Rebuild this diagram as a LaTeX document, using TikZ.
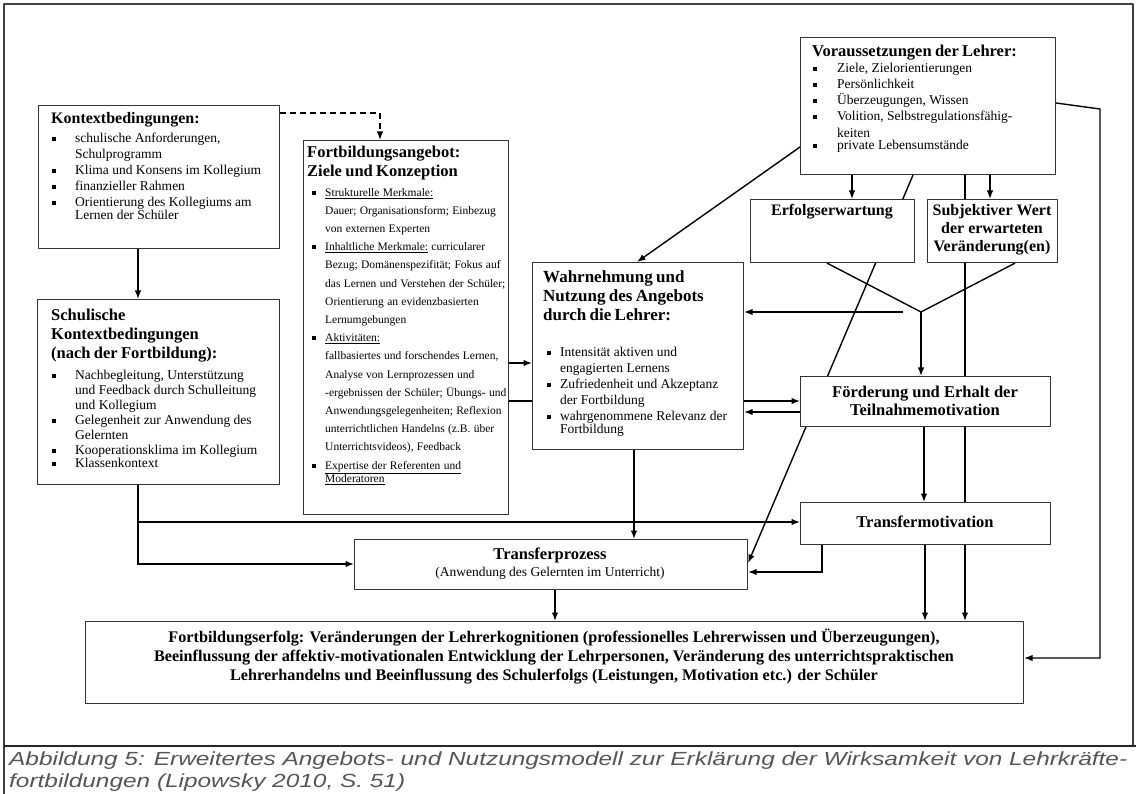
\documentclass[tikz,border=0pt]{standalone}
\usepackage{graphicx}
\usepackage{fontspec}
\setmainfont{Liberation Serif}
\newfontfamily\capfont{Liberation Sans}
\usetikzlibrary{arrows.meta,calc}
\pgfdeclarelayer{bg}
\pgfsetlayers{bg,main}
\definecolor{capgray}{RGB}{85,85,85}
\newcommand\fs[2]{\fontsize{#1}{#2}\selectfont}
\newcommand\bul{\raisebox{1.6pt}{\rule{4pt}{4pt}}}
\newcommand\itm[3]{\par\noindent\makebox[#2][l]{\hspace*{#1}\bul}#3}
\newcommand\cnt[2]{\par\noindent\hspace*{#1}#2}
\newcommand\st{\rule{0pt}{14pt}}
\begin{document}
\begin{tikzpicture}[x=1pt,y=-1pt,line join=round,
  box/.style={draw=black!80, line width=1.1pt, fill=white, inner sep=0pt, anchor=north west},
  arr/.style={line width=1.4pt, -{Latex[length=8.5pt,width=6.5pt]}},
  ln/.style={line width=1.4pt},
  lt/.style={inner sep=0pt, anchor=north west, align=left},
  ct/.style={inner sep=0pt, anchor=north, align=center}]
\useasboundingbox (0,0) rectangle (1136,794);
% frame
\draw[line width=1.2pt, black!75] (4,794) -- (4,4) -- (1133,4) -- (1133,746);
\draw[line width=2.2pt, black!85] (4,746) -- (1136,746);

% boxes
\node[box, minimum width=241pt, minimum height=143pt] (K) at (38,105) {};
\node[box, minimum width=242pt, minimum height=185pt] (S) at (37,299) {};
\node[box, minimum width=205pt, minimum height=374pt] (F) at (303,140) {};
\node[box, minimum width=255pt, minimum height=137pt] (V) at (800,37) {};
\node[box, minimum width=164pt, minimum height=63pt] (E) at (750,199) {};
\node[box, minimum width=130pt, minimum height=63pt] (SW) at (927,199) {};
\node[box, minimum width=211pt, minimum height=187pt] (WN) at (532,262) {};
\node[box, minimum width=250pt, minimum height=50pt] (FM) at (800,376) {};
\node[box, minimum width=250pt, minimum height=42pt] (TM) at (800,502) {};
\node[box, minimum width=393pt, minimum height=50pt] (T) at (354,539) {};
\node[box, minimum width=938pt, minimum height=82pt] (B) at (85,621) {};
\coordinate (J) at (921,312);
\coordinate (rb) at (1100,109);

% connectors (behind boxes)
\begin{pgfonlayer}{bg}
\draw[arr] (K.south -| 138,0) -- (S.north -| 138,0);
\draw[arr, dash pattern=on 6pt off 4pt] ($(K.north east)+(0,8)$) -| (F.north -| 380,0);
\draw[arr] (V.west |- 0,147) -- (WN.north -| 637,0);
\draw[arr] (V.south -| 852,0) -- (E.north -| 852,0);
\draw[arr] (V.south -| 990,0) -- (SW.north -| 990,0);
\draw[arr] (V.south -| 965,0) -- (B.north -| 965,0);
\draw[arr] (V.east |- 0,103) -- (rb) |- (B.east |- 0,658);
\draw[arr] (V.south -| 913,0) -- (T.east |- 0,563);
\draw[ln] (E.south -| 827,0) -- (J);
\draw[ln] (SW.south -| 1015,0) -- (J);
\draw[arr] ($(J)+(-18,0)$) -- (WN.east |- J);
\draw[arr] (J) -- (FM.north -| J);
\draw[arr] (F.east |- 0,401) -- (FM.west |- 0,401);
\draw[arr] (FM.west |- 0,412) -- (WN.east |- 0,412);
\draw[arr] (F.east |- 0,363) -- (WN.west |- 0,363);
\draw[arr] (WN.south -| 634,0) -- (T.north -| 634,0);
\draw[arr] (FM.south -| 924,0) -- (TM.north -| 924,0);
\draw[arr] (S.south -| 138,0) |- (T.west |- 0,564);
\draw[arr] (S.south -| 138,0) |- (TM.west |- 0,522);
\draw[arr] (TM.south -| 822,0) |- (T.east |- 0,572);
\draw[arr] (T.south -| 555,0) -- (B.north -| 555,0);
\draw[arr] (TM.south -| 925,0) -- (B.north -| 925,0);
\end{pgfonlayer}

% texts
\node[lt, text width=225pt] (Kt) at (51,109) {\noindent\fs{16}{19}\bfseries\st Kontextbedingungen:\par
\vspace{3pt}\fs{13.5}{16}\mdseries
\itm{1pt}{24pt}{schulische Anforderungen,}\cnt{24pt}{Schulprogramm}
\itm{1pt}{24pt}{Klima und Konsens im Kollegium}
\itm{1pt}{24pt}{finanzieller Rahmen}
\itm{1pt}{24pt}{Orientierung des Kollegiums am}\cnt{24pt}{Lernen der Schüler}};

\node[lt, text width=228pt] (St) at (51,306) {\noindent\fs{16.5}{19}\bfseries\st Schulische\par\noindent Kontextbedingungen\par\noindent (nach der Fortbildung):\par
\vspace{6pt}\fs{13.5}{15}\mdseries
\itm{1pt}{24pt}{Nachbegleitung, Unterstützung}\cnt{24pt}{und Feedback durch Schulleitung}\cnt{24pt}{und Kollegium}
\itm{1pt}{24pt}{Gelegenheit zur Anwendung des}\cnt{24pt}{Gelernten}
\itm{1pt}{24pt}{Kooperationsklima im Kollegium}
\itm{1pt}{24pt}{Klassenkontext}};

\node[lt, text width=230pt] (Ft) at (307,143) {\noindent\fs{16.5}{19}\bfseries\st Fortbildungsangebot:\par\noindent Ziele und Konzeption\par
\vspace{1.8pt}\fs{11.5}{18.2}\mdseries
\itm{5pt}{18pt}{\underline{Strukturelle Merkmale:}}
\cnt{18pt}{Dauer; Organisationsform; Einbezug}
\cnt{18pt}{von externen Experten}
\itm{5pt}{18pt}{\underline{Inhaltliche Merkmale:} curricularer}
\cnt{18pt}{Bezug; Domänenspezifität; Fokus auf}
\cnt{18pt}{das Lernen und Verstehen der Schüler;}
\cnt{18pt}{Orientierung an evidenzbasierten}
\cnt{18pt}{Lernumgebungen}
\itm{5pt}{18pt}{\underline{Aktivitäten:}}
\cnt{18pt}{fallbasiertes und forschendes Lernen,}
\cnt{18pt}{Analyse von Lernprozessen und}
\cnt{18pt}{-ergebnissen der Schüler; Übungs- und}
\cnt{18pt}{Anwendungsgelegenheiten; Reflexion}
\cnt{18pt}{unterrichtlichen Handelns (z.B. über}
\cnt{18pt}{Unterrichtsvideos), Feedback}
\itm{5pt}{18pt}{\underline{Expertise der Referenten und}}
\cnt{18pt}{\underline{Moderatoren}}};

\node[lt, text width=240pt] (Vt) at (812,42) {\noindent\fs{16.5}{19}\bfseries\st Voraussetzungen der Lehrer:\par
\fs{13.5}{16.2}\mdseries
\itm{1pt}{25pt}{Ziele, Zielorientierungen}
\itm{1pt}{25pt}{Persönlichkeit}
\itm{1pt}{25pt}{Überzeugungen, Wissen}
\itm{1pt}{25pt}{Volition, Selbstregulationsfähig-}\cnt{25pt}{keiten}
\itm{1pt}{25pt}{private Lebensumstände}};

\node[lt, text width=200pt] (WNt) at (543,268) {\noindent\fs{17}{19}\bfseries\st Wahrnehmung und\par\noindent Nutzung des Angebots\par\noindent durch die Lehrer:\par
\vspace{20pt}\fs{13.5}{16}\mdseries
\itm{4pt}{17pt}{Intensität aktiven und}\cnt{17pt}{engagierten Lernens}
\itm{4pt}{17pt}{Zufriedenheit und Akzeptanz}\cnt{17pt}{der Fortbildung}
\itm{4pt}{17pt}{wahrgenommene Relevanz der}\cnt{17pt}{Fortbildung}};

\node[ct, font=\fs{16}{18}\bfseries] (Et) at (832,201) {\st Erfolgserwartung};
\node[ct, font=\fs{16}{18}\bfseries] (SWt) at (992,201) {\st Subjektiver Wert\\der erwarteten\\Veränderung(en)};
\node[ct, font=\fs{16.5}{18}\bfseries] (FMt) at (925,383) {\st Förderung und Erhalt der\\Teilnahmemotivation};
\node[ct, font=\fs{16.5}{18}\bfseries] (TMt) at (925,513) {\st Transfermotivation};
\node[ct, font=\fs{16.5}{17}] (Tt) at (550,545) {\st\bfseries Transferprozess\\{\fs{13.5}{17}(Anwendung des Gelernten im Unterricht)}};
\node[ct, font=\fs{16.2}{19}\bfseries] (Bt) at (554,628) {\st Fortbildungserfolg: Veränderungen der Lehrerkognitionen (professionelles Lehrerwissen und Überzeugungen),\\Beeinflussung der affektiv-motivationalen Entwicklung der Lehrpersonen, Veränderung des unterrichtspraktischen\\Lehrerhandelns und Beeinflussung des Schulerfolgs (Leistungen, Motivation etc.) der Schüler};

% caption
\node[inner sep=0pt, anchor=north west, text=capgray] (cap) at (9,750) {\resizebox{1118pt}{\height}{\capfont\itshape\fs{19}{22}\begin{tabular}{@{}l@{}}Abbildung 5: Erweitertes Angebots- und Nutzungsmodell zur Erklärung der Wirksamkeit von Lehrkräfte-\\fortbildungen (Lipowsky 2010, S. 51)\end{tabular}}};
\end{tikzpicture}
\end{document}
